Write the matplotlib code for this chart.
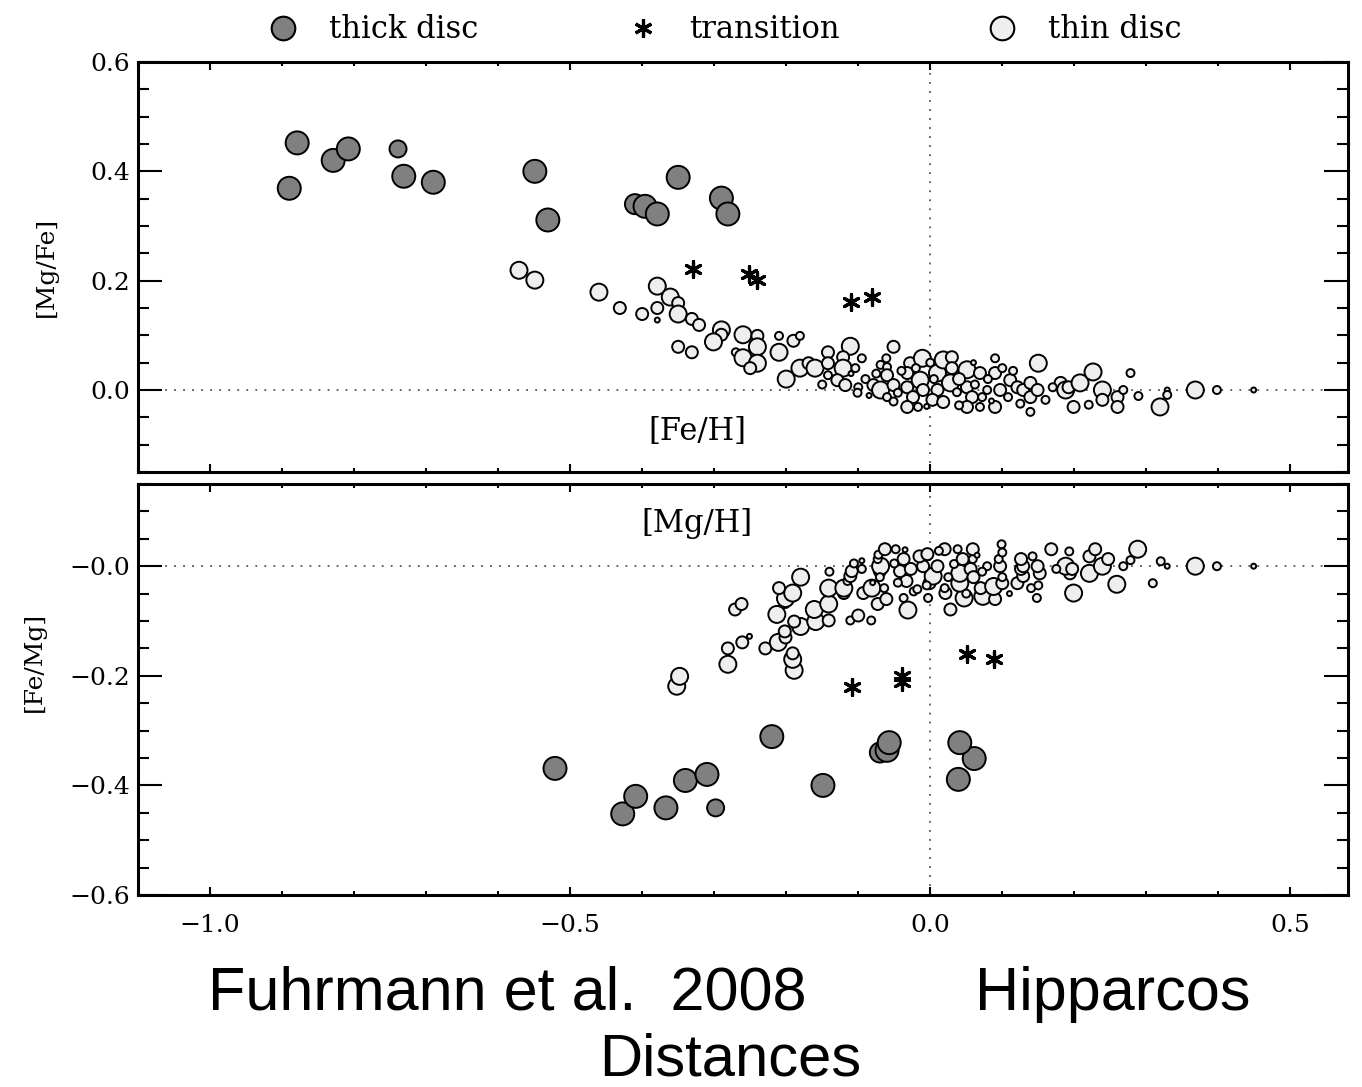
import numpy as np
import matplotlib
matplotlib.use("Agg")
import matplotlib.pyplot as plt
from matplotlib.ticker import MultipleLocator, FuncFormatter
from matplotlib.lines import Line2D

# --- data : [Fe/H], [Mg/Fe], size class ---
thick_feh = [-0.879, -0.890, -0.829, -0.808, -0.739, -0.731, -0.690, -0.549,
             -0.531, -0.410, -0.396, -0.379, -0.350, -0.290, -0.281]
thick_mgfe = [0.452, 0.369, 0.420, 0.441, 0.441, 0.391, 0.380, 0.400,
              0.311, 0.340, 0.336, 0.322, 0.389, 0.351, 0.322]
thick_size = [6, 6, 6, 6, 4, 6, 6, 6, 6, 5, 6, 6, 6, 6, 6]

trans_feh = [-0.329, -0.251, -0.240, -0.110, -0.081]
trans_mgfe = [0.221, 0.212, 0.201, 0.161, 0.170]

thin_feh = [-0.571, -0.549, -0.460, -0.431, -0.400, -0.379, -0.379, -0.379, -0.361, -0.350,
            -0.350, -0.331, -0.321, -0.350, -0.331, -0.290, -0.290, -0.301, -0.260, -0.240,
            -0.240, -0.270, -0.260, -0.240, -0.250, -0.210, -0.210, -0.190, -0.181, -0.200,
            -0.181, -0.169, -0.160, -0.142, -0.142, -0.111, -0.121, -0.121, -0.104, -0.142,
            -0.129, -0.118, -0.100, -0.079, -0.069, -0.051, -0.061, -0.069, -0.060, -0.060,
            -0.051, -0.101, -0.060, -0.051, -0.028, -0.011, -0.032, -0.032, -0.014, -0.010,
            -0.024, -0.032, -0.017, 0.010, 0.018, 0.030, 0.030, 0.028, 0.010, 0.003,
            0.018, 0.037, 0.051, 0.051, 0.058, 0.069, 0.072, 0.051, 0.069, 0.079,
            0.090, 0.090, 0.097, 0.090, 0.111, 0.108, 0.121, 0.129, 0.139, 0.139,
            0.139, 0.150, 0.149, 0.160, 0.181, 0.188, 0.192, 0.199, 0.208, 0.226,
            0.239, 0.220, 0.239, 0.260, 0.260, 0.268, 0.278, 0.289, 0.329, 0.329,
            0.319, 0.368, 0.398, 0.449,
            -0.090, -0.085, -0.040, -0.045, -0.020, 0.000, 0.005, 0.040, 0.062, 0.080,
            0.100, 0.115, -0.005, 0.040, 0.085, -0.075, -0.110, -0.095, -0.150, 0.060,
            0.125, 0.170]
thin_mgfe = [0.219, 0.201, 0.179, 0.150, 0.139, 0.190, 0.150, 0.128, 0.170, 0.159,
             0.139, 0.130, 0.119, 0.079, 0.069, 0.110, 0.101, 0.088, 0.101, 0.099,
             0.079, 0.069, 0.059, 0.049, 0.040, 0.099, 0.069, 0.090, 0.099, 0.020,
             0.040, 0.049, 0.040, 0.069, 0.049, 0.080, 0.060, 0.040, 0.040, 0.027,
             0.018, 0.009, 0.005, 0.009, 0.000, 0.079, 0.058, 0.046, 0.042, 0.027,
             0.009, -0.005, -0.013, -0.021, 0.049, 0.058, 0.031, 0.005, 0.018, 0.000,
             -0.013, -0.031, -0.031, 0.031, 0.055, 0.060, 0.040, 0.013, 0.000, -0.018,
             -0.022, -0.004, 0.037, 0.005, -0.013, 0.031, -0.013, -0.031, -0.031, 0.000,
             0.058, 0.031, 0.000, -0.031, 0.018, -0.013, 0.005, 0.000, 0.013, -0.013,
             -0.040, 0.049, 0.000, -0.018, 0.013, 0.000, 0.005, -0.031, 0.013, 0.033,
             0.000, -0.027, -0.018, -0.013, -0.031, 0.000, 0.031, -0.011, 0.000, -0.009,
             -0.031, 0.000, 0.000, 0.000,
             0.020, -0.010, 0.035, -0.005, 0.040, 0.050, 0.020, 0.020, 0.010, 0.020,
             0.040, 0.035, -0.030, -0.028, -0.020, 0.030, 0.030, 0.058, 0.010, 0.050,
             -0.025, 0.005]
thin_size = [4, 4, 4, 3, 3, 4, 3, 1, 4, 3,
             4, 3, 3, 3, 3, 4, 3, 4, 4, 3,
             4, 2, 4, 4, 3, 2, 4, 3, 2, 4,
             4, 3, 4, 3, 3, 4, 3, 4, 2, 2,
             3, 3, 2, 3, 4, 3, 2, 2, 2, 3,
             3, 2, 2, 2, 3, 4, 3, 3, 4, 3,
             3, 3, 2, 4, 4, 3, 3, 4, 3, 3,
             3, 2, 4, 3, 3, 3, 2, 3, 2, 2,
             2, 3, 3, 3, 3, 2, 3, 3, 3, 3,
             2, 4, 3, 2, 3, 4, 3, 3, 4, 4,
             4, 2, 3, 3, 3, 2, 2, 2, 1, 2,
             4, 4, 2, 1,
             2, 1, 2, 2, 2, 2, 2, 3, 2, 2,
             2, 2, 1, 2, 1, 2, 1, 2, 2, 1,
             2, 2]

legend_labels = ["thick disc", "transition", "thin disc"]

SIZE_PX = {1: 7, 2: 10, 3: 14, 4: 19, 5: 22, 6: 25}


def area(classes):
    return [((SIZE_PX[c] - 2) * 0.72) ** 2 for c in classes]


serif = "DejaVu Serif"
plt.rcParams["font.family"] = [serif]

W, H = 1362, 1087
fig = plt.figure(figsize=(W / 100, H / 100), dpi=100)

ax_top = fig.add_axes([138 / W, 1 - 472 / H, 1210 / W, 410 / H])
ax_bot = fig.add_axes([138 / W, 1 - 895 / H, 1210 / W, 411 / H])

thick_feh = np.array(thick_feh); thick_mgfe = np.array(thick_mgfe)
trans_feh = np.array(trans_feh); trans_mgfe = np.array(trans_mgfe)
thin_feh = np.array(thin_feh); thin_mgfe = np.array(thin_mgfe)

STAR = (6, 2, 0)

# top: [Mg/Fe] vs [Fe/H]; bottom: [Fe/Mg] vs [Mg/H]
panels = [
    (ax_top, lambda f, m: (f, m)),
    (ax_bot, lambda f, m: (f + m, -m)),
]
for ax, tr in panels:
    ax.axhline(0, color="#555555", lw=1.3, ls=(0, (1, 4)), zorder=0)
    ax.axvline(0, color="#555555", lw=1.3, ls=(0, (1, 4)), zorder=0)
    x, y = tr(thin_feh, thin_mgfe)
    ax.scatter(x, y, s=area(thin_size), facecolor="#eeeeee", edgecolor="black",
               linewidths=1.4, zorder=2)
    x, y = tr(thick_feh, thick_mgfe)
    ax.scatter(x, y, s=area(thick_size), facecolor="#808080", edgecolor="black",
               linewidths=1.4, zorder=3)
    x, y = tr(trans_feh, trans_mgfe)
    ax.scatter(x, y, s=130, marker=STAR, color="black", linewidths=2.3, zorder=4)

    ax.set_xlim(-1.1, 0.58)
    ax.xaxis.set_major_locator(MultipleLocator(0.5))
    ax.xaxis.set_minor_locator(MultipleLocator(0.1))
    ax.yaxis.set_major_locator(MultipleLocator(0.2))
    ax.yaxis.set_minor_locator(MultipleLocator(0.05))
    ax.tick_params(which="both", direction="in", top=True, right=True, width=1.5,
                   labelsize=18)
    ax.tick_params(axis="x", which="major", length=6)
    ax.tick_params(axis="x", which="minor", length=3)
    ax.tick_params(axis="y", which="major", length=17)
    ax.tick_params(axis="y", which="minor", length=8)
    ax.tick_params(axis="y", pad=6)
    ax.tick_params(axis="x", pad=14)
    for sp in ax.spines.values():
        sp.set_linewidth(2.2)

ax_top.set_ylim(-0.15, 0.6)
ax_bot.set_ylim(-0.6, 0.15)
ax_top.tick_params(labelbottom=False)


def neg_zero(v, pos):
    if v <= 1e-9:
        return "\u2212%.1f" % abs(v)
    return "%.1f" % v


def plain(v, pos):
    if v < -1e-9:
        return "\u2212%.1f" % abs(v)
    return "%.1f" % v


ax_top.yaxis.set_major_formatter(FuncFormatter(plain))
ax_bot.yaxis.set_major_formatter(FuncFormatter(neg_zero))
ax_bot.xaxis.set_major_formatter(FuncFormatter(plain))

ax_top.text(0.462, 0.10, "[Fe/H]", transform=ax_top.transAxes, ha="center", va="center",
            fontsize=22)
ax_bot.text(0.462, 0.905, "[Mg/H]", transform=ax_bot.transAxes, ha="center", va="center",
            fontsize=22)

fig.text(46 / W, 1 - 267 / H, "[Mg/Fe]", rotation=90, ha="center", va="center",
         fontsize=18)
fig.text(34 / W, 1 - 662 / H, "[Fe/Mg]", rotation=90, ha="center", va="center",
         fontsize=18)

# legend strip at the top, one entry per key so each sits where the original has it
handles = [
    Line2D([], [], ls="none", marker="o", ms=17, mfc="#808080", mec="black", mew=1.5),
    Line2D([], [], ls="none", marker=STAR, ms=13, color="black", mew=2.3),
    Line2D([], [], ls="none", marker="o", ms=17, mfc="#eeeeee", mec="black", mew=1.5),
]
key_left = [268, 628, 987]
for h, lab, xl in zip(handles, legend_labels, key_left):
    fig.legend([h], [lab], loc="center left", bbox_to_anchor=(xl / W, 1 - 30 / H),
               frameon=False, borderpad=0, borderaxespad=0, handlelength=1.0,
               handletextpad=1.0, prop={"size": 22})

sans = "Liberation Sans"
fig.text(208 / W, 1 - 1010 / H, "Fuhrmann et al.  2008", ha="left", va="baseline",
         fontfamily=sans, fontsize=44)
fig.text(975 / W, 1 - 1010 / H, "Hipparcos", ha="left", va="baseline",
         fontfamily=sans, fontsize=44)
fig.text(730 / W, 1 - 1076 / H, "Distances", ha="center", va="baseline",
         fontfamily=sans, fontsize=43)

fig.savefig("out.png", dpi=100)
